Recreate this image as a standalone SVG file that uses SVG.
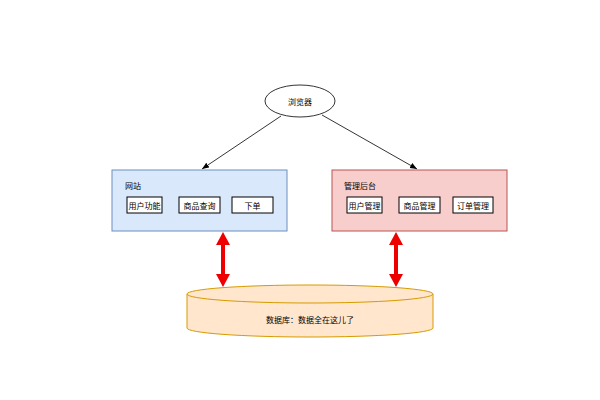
<svg xmlns="http://www.w3.org/2000/svg" width="600" height="400" viewBox="0 0 600 400">
<style>
text{font-family:"Noto Sans CJK SC","Liberation Sans",sans-serif;font-size:8px;fill:#000;text-anchor:middle;dominant-baseline:central}
.inner{fill:#fff;stroke:#000;stroke-width:1}
.conn{stroke:#000;stroke-width:0.8;fill:none}
.red{stroke:#e00;stroke-width:4;fill:none}
</style>
<defs>
<marker id="ah" viewBox="0 0 10 10" refX="10" refY="5" markerWidth="7" markerHeight="7" markerUnits="userSpaceOnUse" orient="auto">
<path d="M0,1 L10,5 L0,9 Z" fill="#000"/>
</marker>
</defs>
<rect width="600" height="400" fill="#fff"/>
<g id="connectors">
<line class="conn" x1="281" y1="116" x2="202" y2="169" marker-end="url(#ah)"/>
<line class="conn" x1="322" y1="115" x2="417" y2="169" marker-end="url(#ah)"/>
<line class="red" x1="223" y1="244" x2="223" y2="275"/>
<path d="M223,232 L216,245 L230,245 Z" fill="#e00"/>
<path d="M223,287 L216,274 L230,274 Z" fill="#e00"/>
<line class="red" x1="396" y1="244" x2="396" y2="275"/>
<path d="M396,232 L389,245 L403,245 Z" fill="#e00"/>
<path d="M396,287 L389,274 L403,274 Z" fill="#e00"/>
</g>
<g id="browser">
<ellipse cx="300" cy="101" rx="35" ry="16" fill="#fff" stroke="#000" stroke-width="0.8"/>
<text x="300" y="101">浏览器</text>
</g>
<g id="website">
<rect x="112" y="170" width="175" height="61" fill="#dae8fc" stroke="#6c8ebf"/>
<text x="133" y="185">网站</text>
<rect class="inner" x="127" y="197" width="35" height="16"/>
<text x="144.5" y="205">用户功能</text>
<rect class="inner" x="179" y="197" width="41" height="16"/>
<text x="199.5" y="205">商品查询</text>
<rect class="inner" x="232" y="197" width="41" height="16"/>
<text x="252.5" y="205">下单</text>
</g>
<g id="admin">
<rect x="332" y="170" width="175" height="61" fill="#f8cecc" stroke="#b85450"/>
<text x="360" y="185">管理后台</text>
<rect class="inner" x="347" y="197" width="35" height="16"/>
<text x="364.5" y="205">用户管理</text>
<rect class="inner" x="399" y="197" width="41" height="16"/>
<text x="419.5" y="205">商品管理</text>
<rect class="inner" x="453" y="197" width="40" height="16"/>
<text x="473" y="205">订单管理</text>
</g>
<g id="database">
<path d="M187,294 L187,328 A123,9 0 0 0 433,328 L433,294" fill="#ffe6cc" stroke="#d79b00"/>
<ellipse cx="310" cy="294" rx="123" ry="9" fill="#ffe6cc" stroke="#d79b00"/>
<text x="310" y="319">数据库：数据全在这儿了</text>
</g>
</svg>
